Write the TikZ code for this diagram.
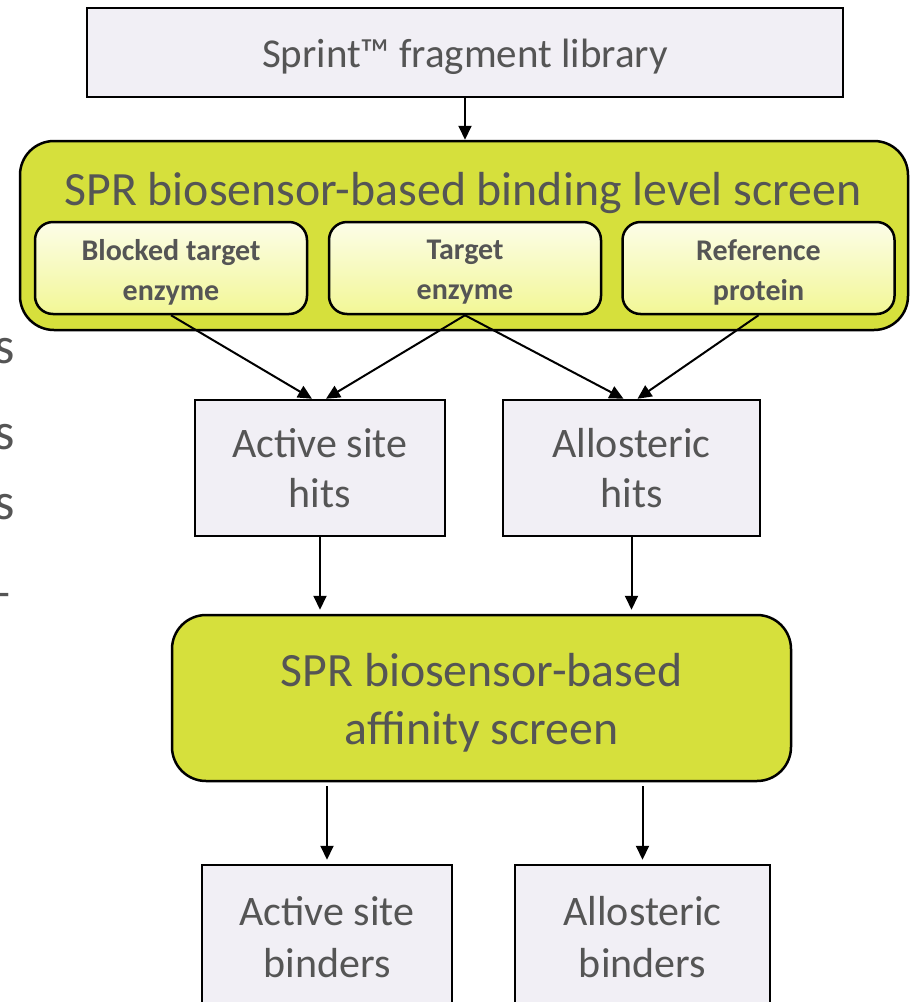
\documentclass[tikz,border=0pt]{standalone}
\usepackage{fontspec}
\setmainfont{Carlito}
\usetikzlibrary{arrows.meta,calc}
\definecolor{txtgray}{HTML}{555555}
\definecolor{boxfill}{HTML}{F1EFF5}
\definecolor{sprgreen}{HTML}{D6E03C}
\definecolor{innertop}{HTML}{FCFDE8}
\definecolor{innerbot}{HTML}{F2F796}
\tikzset{
  graybox/.style={draw=black, line width=2.5pt, fill=boxfill, text=txtgray, align=center, inner sep=0pt},
  greenbox/.style={draw=black, line width=2.5pt, fill=sprgreen, rounded corners=34pt, inner sep=0pt},
  innerbox/.style={draw=black, line width=2.5pt, rounded corners=18pt, top color=innertop, bottom color=innerbot, inner sep=0pt, minimum width=272pt, minimum height=92pt},
  boxtext/.style={text=txtgray, align=center, inner sep=0pt},
  flow/.style={draw=black, line width=2pt, -{Triangle[length=14pt,width=13pt]}},
  cutletter/.style={text=txtgray, inner sep=0pt, font=\fontsize{52}{60}\selectfont}
}
\begin{document}
\begin{tikzpicture}[x=1pt,y=-1pt]
\useasboundingbox (0,0) rectangle (912,1002);
\clip (0,0) rectangle (912,1002);
% cut-off letters at the left edge
\node[cutletter, anchor=east] (c1) at (15,351) {s};
\node[cutletter, anchor=east] (c2) at (15,437) {s};
\node[cutletter, anchor=east] (c3) at (15,507) {s};
\node[cutletter, anchor=east] (c4) at (13,601) {–};
% top box
\node[graybox, minimum width=756pt, minimum height=89pt] (lib) at (465,52.5) {};
\node[boxtext, font=\fontsize{41}{48}\selectfont] (libt) at (465,57) {Sprint™ fragment library};
% big green box
\node[greenbox, minimum width=888pt, minimum height=189pt] (scr) at (464,235.5) {};
\node[boxtext, font=\fontsize{47.8}{56}\selectfont] (scrtitle) at (463,193) {SPR biosensor-based binding level screen};
\node[innerbox] (b1) at (171,268) {};
\node[innerbox] (b2) at (465,268) {};
\node[innerbox] (b3) at (758.5,268) {};
\node[boxtext, font=\fontsize{30}{40}\selectfont\bfseries] (b1t) at ($(b1)+(0,4)$) {Blocked target\\enzyme};
\node[boxtext, font=\fontsize{30}{40}\selectfont\bfseries] (b2t) at ($(b2)+(0,4)$) {Target\\enzyme};
\node[boxtext, font=\fontsize{30}{40}\selectfont\bfseries] (b3t) at ($(b3)+(0,4)$) {Reference\\protein};
% hits boxes
\node[graybox, minimum width=250pt, minimum height=136pt, font=\fontsize{42}{50}\selectfont] (h1) at (320,468) {Active site\\hits};
\node[graybox, minimum width=257pt, minimum height=136pt, font=\fontsize{42}{50}\selectfont] (h2) at (631.5,468) {Allosteric\\hits};
% affinity screen
\node[greenbox, minimum width=619pt, minimum height=166pt] (aff) at (481.5,698) {};
\node[boxtext, font=\fontsize{47.8}{58}\selectfont] (afft) at (481.5,703) {SPR biosensor-based\\affinity screen};
% binders
\node[graybox, minimum width=250pt, minimum height=144pt, font=\fontsize{42}{52}\selectfont] (d1) at (327,937) {Active site\\binders};
\node[graybox, minimum width=255pt, minimum height=144pt, font=\fontsize{42}{52}\selectfont] (d2) at (642.5,937) {Allosteric\\binders};
% connectors
\draw[flow] (lib.south) -- (scr.north -| lib.south);
\draw[flow] (b1.south) -- ($(h1.north)+(-8,0)$);
\draw[flow] (b2.south) -- ($(h1.north)+(6,0)$);
\draw[flow] (b2.south) -- ($(h2.north)+(-8,0)$);
\draw[flow] (b3.south) -- ($(h2.north)+(6,0)$);
\draw[flow, shorten >=4pt] (h1.south) -- (h1.south |- aff.north);
\draw[flow, shorten >=4pt] (h2.south) -- (h2.south |- aff.north);
\draw[flow, shorten <=4pt, shorten >=4pt] (aff.south -| d1.north) -- (d1.north);
\draw[flow, shorten <=4pt, shorten >=4pt] (aff.south -| d2.north) -- (d2.north);
\end{tikzpicture}
\end{document}
